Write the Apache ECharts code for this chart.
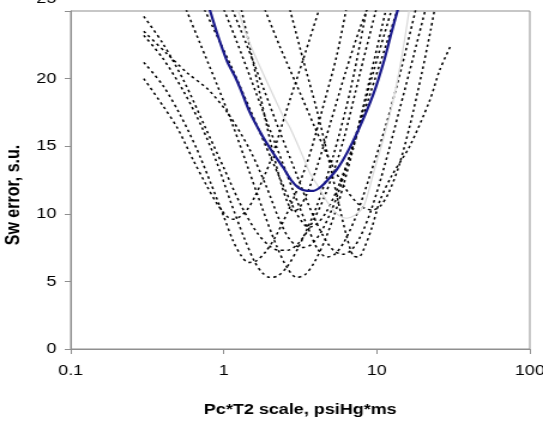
<!DOCTYPE html>
<html>
<head>
<meta charset="utf-8">
<script src="https://cdn.jsdelivr.net/npm/echarts@6/dist/echarts.min.js"></script>
<style>
html,body{margin:0;padding:0;background:#fff;overflow:hidden;}
#main{width:453px;height:422px;transform:scaleX(1.1987);transform-origin:0 0;}
</style>
</head>
<body>
<div id="main"></div>
<script>
// Axis settings
const xTicks = [0.1, 1, 10, 100];
const yTicks = [0, 5, 10, 15, 20, 25];
const xTitle = 'Pc*T2 scale, psiHg*ms';
const yTitle = 'Sw error, s.u.';

// Individual dotted curves [Pc*T2 scale, Sw error]
const curveA = [[0.3,20.0],[0.4,18.0],[0.5,16.3],[0.63,14.0],[0.78,12.0],[0.92,10.6],[1.05,9.8],[1.15,9.6],[1.28,9.8],[1.42,10.3],[1.6,11.3],[2.0,13.8],[2.7,18.4],[3.3,21.4],[4.3,25.5]];
const curveB = [[0.3,21.2],[0.4,19.5],[0.52,17.3],[0.66,14.9],[0.82,12.3],[1.0,9.8],[1.15,8.0],[1.3,6.9],[1.45,6.4],[1.62,6.5],[1.85,7.1],[2.2,8.4],[2.8,10.9],[3.6,14.2],[4.6,18.5],[5.5,21.8],[6.4,25.5]];
const curveC = [[0.3,23.2],[0.4,21.5],[0.55,19.0],[0.72,16.4],[0.9,13.8],[1.1,11.0],[1.35,8.3],[1.6,6.4],[1.8,5.6],[2.0,5.3],[2.25,5.4],[2.6,6.1],[3.1,7.6],[4.0,10.4],[5.2,14.3],[6.8,19.4],[8.7,25.5]];
const curveD = [[0.3,23.5],[0.42,21.9],[0.58,20.4],[0.79,19.2],[1.07,17.4],[1.47,14.8],[1.9,12.0],[2.3,9.6],[2.7,8.1],[3.2,7.5],[3.7,7.7],[4.4,8.8],[5.5,11.3],[7.2,15.6],[9.5,20.5],[12.8,25.5]];
const curveE = [[0.3,24.6],[0.4,22.6],[0.55,19.8],[0.75,16.5],[1.0,13.4],[1.3,10.6],[1.65,8.6],[2.0,7.6],[2.3,7.3],[2.6,7.3],[3.0,7.7],[3.6,8.9],[4.6,11.4],[6.0,15.3],[7.8,20.5],[10.1,25.5]];
const curveF = [[0.55,25.5],[0.7,22.6],[0.9,19.6],[1.15,16.5],[1.45,13.3],[1.8,10.3],[2.2,7.7],[2.6,6.0],[3.0,5.3],[3.4,5.5],[3.9,6.4],[4.6,8.1],[5.6,10.8],[7.0,14.8],[9.0,20.0],[11.7,25.5]];
const curveG = [[0.72,25.5],[0.9,23.2],[1.15,20.6],[1.5,17.6],[1.9,14.9],[2.4,12.3],[2.9,10.3],[3.3,9.3],[3.6,9.0],[4.0,9.2],[4.6,10.0],[5.5,11.8],[7.0,15.0],[9.0,18.8],[11.5,22.5],[14.0,25.5]];
const curveH = [[0.97,25.5],[1.2,22.9],[1.5,20.0],[1.9,16.9],[2.4,13.9],[3.0,11.0],[3.6,8.8],[4.1,7.4],[4.7,6.8],[5.3,7.0],[6.1,7.9],[7.3,9.8],[9.0,12.8],[11.5,16.6],[14.5,20.8],[18.3,25.5]];
const curveI = [[1.1,25.5],[1.4,22.6],[1.8,19.4],[2.3,16.2],[2.9,13.3],[3.6,10.6],[4.4,8.5],[5.2,7.3],[6.0,7.0],[6.8,7.3],[7.8,8.3],[9.2,10.3],[11.2,13.5],[14.0,17.6],[17.5,21.8],[21.2,25.5]];
const curveJ = [[1.28,25.5],[1.5,22.0],[1.75,18.5],[2.05,15.0],[2.35,12.4],[2.6,10.9],[2.85,10.2],[3.1,10.4],[3.5,11.5],[4.1,13.6],[5.0,16.8],[6.3,20.6],[7.8,23.8],[9.3,26.0]];
const curveK = [[1.8,25.5],[2.3,22.5],[3.0,19.5],[3.9,16.5],[5.0,13.8],[6.3,11.8],[7.6,10.7],[8.6,10.35],[9.5,10.3],[10.6,10.6],[12.0,11.6],[14.0,13.6],[16.5,16.6],[19.5,20.2],[22.5,23.6],[24.2,25.5]];
const curveL = [[2.65,25.5],[3.3,21.4],[4.05,17.7],[4.9,13.8],[5.7,10.5],[6.4,8.2],[7.0,6.9],[7.6,6.8],[8.3,7.5],[9.3,9.0],[10.5,11.0],[12.5,12.8],[16.4,15.0],[22.2,18.4],[25.7,20.6],[30.3,22.4]];

// Light grey solid curve
const curveGrey = [[1.2,25.5],[1.48,22.6],[2.0,19.3],[2.45,17.2],[2.7,16.4],[3.3,14.2],[3.66,13.0],[4.05,12.2],[4.8,10.8],[5.6,9.9],[6.35,9.67],[7.2,9.9],[8.15,10.5],[9.0,12.0],[9.5,13.0],[11.0,15.5],[12.8,18.4],[14.5,21.5],[16.4,25.3]];

// Blue solid curve
const curveBlue = [[0.8,25.3],[0.92,23.1],[1.05,21.3],[1.19,20.1],[1.3,19.1],[1.48,17.5],[1.8,15.7],[2.1,14.5],[2.45,13.4],[2.75,12.5],[3.1,11.9],[3.5,11.7],[3.86,11.7],[4.2,11.9],[4.6,12.3],[5.5,13.3],[6.6,14.8],[8.0,16.8],[9.6,19.0],[11.2,21.4],[12.4,23.3],[13.8,25.2]];

const dotted = [curveA, curveB, curveC, curveD, curveE, curveF, curveG, curveH, curveI, curveJ, curveK, curveL];

const axisGrey = '#8f8f8f';
const fontFam = 'Liberation Sans, Arial, sans-serif';
const yMax = yTicks[yTicks.length - 1];

const series = dotted.map(function (d) {
  return {
    type: 'line', data: d, smooth: 0.3, symbol: 'none', silent: true,
    lineStyle: { color: '#000', width: 1.5, type: [2.5, 3] }
  };
});
series.push({
  type: 'line', data: curveGrey, smooth: 0.3, symbol: 'none', silent: true,
  lineStyle: { color: '#d9d9d9', width: 1.2 }
});
series.push({
  type: 'line', data: curveBlue, smooth: 0.3, symbol: 'none', silent: true,
  lineStyle: { color: '#1a1a8c', width: 2.2 }
});

const chart = echarts.init(document.getElementById('main'), null, { renderer: 'canvas' });
chart.setOption({
  animation: false,
  backgroundColor: '#fff',
  grid: { left: 59, right: 11, top: 11, bottom: 73, show: true, borderColor: axisGrey, borderWidth: 1,
          containLabel: false, outerBoundsMode: 'none' },
  xAxis: {
    type: 'log', logBase: 10, min: xTicks[0], max: xTicks[xTicks.length - 1],
    name: xTitle, nameLocation: 'middle', nameGap: 53,
    nameTextStyle: { fontFamily: fontFam, fontWeight: 'bold', fontSize: 15, color: '#000' },
    axisLine: { show: true, lineStyle: { color: axisGrey, width: 1 } },
    axisTick: { show: true, inside: false, length: 5, lineStyle: { color: axisGrey } },
    minorTick: { show: false },
    splitLine: { show: false },
    axisLabel: {
      margin: 14, fontSize: 15, color: '#000', fontFamily: fontFam,
      showMinLabel: true, showMaxLabel: true,
      formatter: function (v) { return String(Math.round(v * 10) / 10); }
    }
  },
  yAxis: [{
    type: 'value', min: yTicks[0], max: yMax, interval: 5,
    name: yTitle, nameLocation: 'middle', nameGap: 38, nameRotate: 90,
    nameTextStyle: { fontFamily: fontFam, fontWeight: 'bold', fontSize: 16, color: '#000', padding: [0, 30, 0, 0] },
    axisLine: { show: true, lineStyle: { color: axisGrey, width: 1 } },
    axisTick: { show: true, inside: false, length: 5, lineStyle: { color: axisGrey } },
    splitLine: { show: false },
    axisLabel: {
      margin: 12, fontSize: 15, color: '#000', fontFamily: fontFam,
      formatter: function (v) { return v === yMax ? '' : String(v); }
    }
  }, {
    // carries only the top label, which sits above its tick as in the source picture
    type: 'value', min: yTicks[0], max: yMax, interval: 5, position: 'left', offset: 0,
    axisLine: { show: false }, axisTick: { show: false }, splitLine: { show: false },
    axisLabel: {
      margin: 12, fontSize: 15, color: '#000', fontFamily: fontFam,
      verticalAlign: 'bottom', padding: [0, 0, 5, 0],
      formatter: function (v) { return v === yMax ? String(v) : ''; }
    }
  }],
  series: series
});
</script>
</body>
</html>
